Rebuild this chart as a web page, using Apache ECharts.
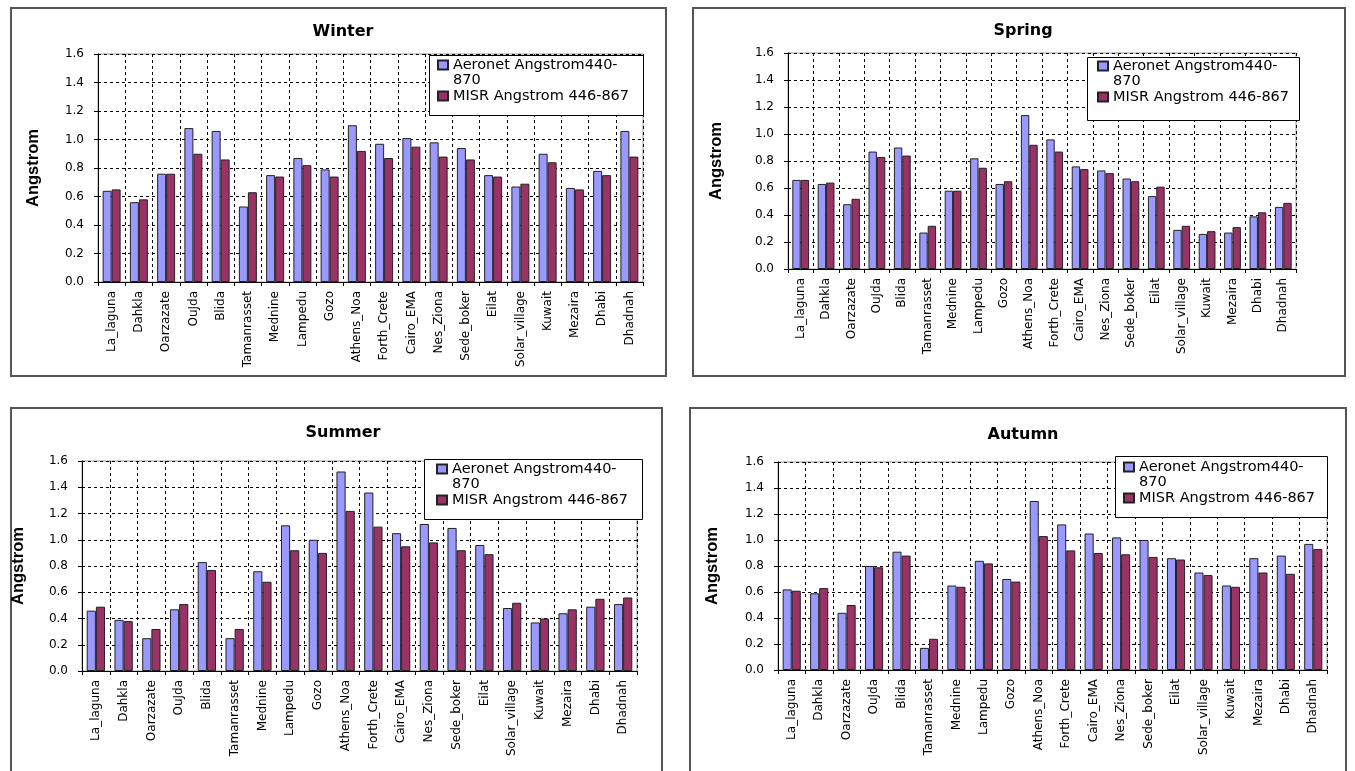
<!DOCTYPE html>
<html>
<head>
<meta charset="utf-8">
<script src="https://cdn.jsdelivr.net/npm/echarts@6/dist/echarts.min.js"></script>
<style>
  html, body { margin: 0; padding: 0; background: #fff; }
  #chart { width: 1355px; height: 771px; }
</style>
</head>
<body>
<div id="chart"></div>
<script>
// stations along the x axis
const stations = ['La_laguna', 'Dahkla', 'Oarzazate', 'OuJda', 'Blida', 'Tamanrasset', 'Mednine',
  'Lampedu', 'Gozo', 'Athens_Noa', 'Forth_Crete', 'Cairo_EMA', 'Nes_Ziona', 'Sede_boker', 'Eilat',
  'Solar_village', 'Kuwait', 'Mezaira', 'Dhabi', 'Dhadnah'];

const seriesNames = ['Aeronet Angstrom440-870', 'MISR Angstrom 446-867'];
const yTicks = [0, 0.2, 0.4, 0.6, 0.8, 1.0, 1.2, 1.4, 1.6];

const winterAeronet = [0.64, 0.56, 0.76, 1.08, 1.06, 0.53, 0.75, 0.87, 0.79, 1.10, 0.97, 1.01, 0.98, 0.94, 0.75, 0.67, 0.90, 0.66, 0.78, 1.06];
const winterMisr    = [0.65, 0.58, 0.76, 0.90, 0.86, 0.63, 0.74, 0.82, 0.74, 0.92, 0.87, 0.95, 0.88, 0.86, 0.74, 0.69, 0.84, 0.65, 0.75, 0.88];

const springAeronet = [0.66, 0.63, 0.48, 0.87, 0.90, 0.27, 0.58, 0.82, 0.63, 1.14, 0.96, 0.76, 0.73, 0.67, 0.54, 0.29, 0.26, 0.27, 0.39, 0.46];
const springMisr    = [0.66, 0.64, 0.52, 0.83, 0.84, 0.32, 0.58, 0.75, 0.65, 0.92, 0.87, 0.74, 0.71, 0.65, 0.61, 0.32, 0.28, 0.31, 0.42, 0.49];

const summerAeronet = [0.46, 0.39, 0.25, 0.47, 0.83, 0.25, 0.76, 1.11, 1.00, 1.52, 1.36, 1.05, 1.12, 1.09, 0.96, 0.48, 0.37, 0.44, 0.49, 0.51];
const summerMisr    = [0.49, 0.38, 0.32, 0.51, 0.77, 0.32, 0.68, 0.92, 0.90, 1.22, 1.10, 0.95, 0.98, 0.92, 0.89, 0.52, 0.40, 0.47, 0.55, 0.56];

const autumnAeronet = [0.62, 0.59, 0.44, 0.80, 0.91, 0.17, 0.65, 0.84, 0.70, 1.30, 1.12, 1.05, 1.02, 1.00, 0.86, 0.75, 0.65, 0.86, 0.88, 0.97];
const autumnMisr    = [0.61, 0.63, 0.50, 0.79, 0.88, 0.24, 0.64, 0.82, 0.68, 1.03, 0.92, 0.90, 0.89, 0.87, 0.85, 0.73, 0.64, 0.75, 0.74, 0.93];

const panels = [
  { title: 'Winter', a: winterAeronet, m: winterMisr,
    frame: [11, 8, 655, 368], grid: [98, 54, 545, 228], titleXY: [338, 29], nameGap: 56,
    legendBox: [429, 55, 214, 60], legendXY: [437, 65] },
  { title: 'Spring', a: springAeronet, m: springMisr,
    frame: [693, 8, 652, 368], grid: [788, 53, 508, 216], titleXY: [1018, 28], nameGap: 63,
    legendBox: [1087, 57, 212, 63], legendXY: [1097, 66] },
  { title: 'Summer', a: summerAeronet, m: summerMisr,
    frame: [11, 408, 651, 380], grid: [82, 461, 555, 210], titleXY: [338, 430], nameGap: 55,
    legendBox: [424, 459, 218, 60], legendXY: [436, 469] },
  { title: 'Autumn', a: autumnAeronet, m: autumnMisr,
    frame: [690, 408, 656, 380], grid: [778, 462, 549, 208], titleXY: [1018, 432], nameGap: 57,
    legendBox: [1115, 456, 212, 61], legendXY: [1123, 467] }
];

const chart = echarts.init(document.getElementById('chart'));

const option = {
  backgroundColor: '#fff',
  animation: false,
  title: [], grid: [], xAxis: [], yAxis: [], legend: [], series: [], graphic: []
};

panels.forEach((p, i) => {
  // panel frame
  option.graphic.push({
    type: 'rect', silent: true, z: 0,
    shape: { x: p.frame[0], y: p.frame[1], width: p.frame[2], height: p.frame[3] },
    style: { fill: 'none', stroke: '#555', lineWidth: 2 }
  });
  // legend box, drawn on its own so the wrapped legend text can sit freely
  option.graphic.push({
    type: 'rect', silent: true, z: 5,
    shape: { x: p.legendBox[0] + 0.5, y: p.legendBox[1] + 0.5, width: p.legendBox[2], height: p.legendBox[3] },
    style: { fill: '#fff', stroke: '#000', lineWidth: 1 }
  });

  option.title.push({
    text: p.title,
    left: p.titleXY[0], top: p.titleXY[1] - 10, textAlign: 'center',
    textStyle: { fontFamily: 'DejaVu Sans', fontWeight: 'bold', fontSize: 16, color: '#000' }
  });

  option.grid.push({
    left: p.grid[0], top: p.grid[1], width: p.grid[2], height: p.grid[3],
    show: true, borderColor: '#9a9a9a', borderWidth: 1, backgroundColor: '#fff'
  });

  option.xAxis.push({
    type: 'category', gridIndex: i, data: stations,
    axisLine: { lineStyle: { color: '#000', width: 1 } },
    axisTick: { show: true, length: 4, lineStyle: { color: '#000' } },
    axisLabel: { rotate: 90, interval: 0, margin: 9, fontFamily: 'DejaVu Sans', fontSize: 12, color: '#000' },
    splitLine: { show: true, interval: 0, lineStyle: { color: '#000', type: [3, 3], width: 1 } }
  });

  option.yAxis.push({
    type: 'value', gridIndex: i, min: 0, max: 1.6, interval: 0.2,
    name: 'Angstrom', nameLocation: 'middle', nameRotate: 90, nameGap: p.nameGap,
    nameTextStyle: { fontFamily: 'Liberation Sans', fontWeight: 'bold', fontSize: 16.5, color: '#000' },
    axisLine: { show: true, lineStyle: { color: '#000', width: 1 } },
    axisTick: { show: true, length: 4, lineStyle: { color: '#000' } },
    axisLabel: { margin: 14, fontFamily: 'DejaVu Sans', fontSize: 12, color: '#000',
      formatter: (v) => yTicks.includes(Math.round(v * 10) / 10) ? v.toFixed(1) : '' },
    splitLine: { show: true, lineStyle: { color: '#000', type: [3, 3], width: 1 } }
  });

  option.series.push({
    name: seriesNames[0], type: 'bar', xAxisIndex: i, yAxisIndex: i, data: p.a,
    barGap: '0%', barCategoryGap: '34%',
    itemStyle: { color: '#9999FF', borderColor: '#222', borderWidth: 1 }
  });
  option.series.push({
    name: seriesNames[1], type: 'bar', xAxisIndex: i, yAxisIndex: i, data: p.m,
    barGap: '0%', barCategoryGap: '34%',
    itemStyle: { color: '#993366', borderColor: '#222', borderWidth: 1 }
  });

  // first legend label wraps like the original: a blank line on top keeps
  // "Aeronet Angstrom440-" level with its swatch and "870" under it
  option.legend.push({
    orient: 'vertical',
    left: p.legendXY[0], top: p.legendXY[1] - 22.5,
    padding: 0, itemGap: 1, itemWidth: 10, itemHeight: 9,
    icon: 'rect', z: 6, selectedMode: false,
    textStyle: { fontFamily: 'DejaVu Sans', fontSize: 14.5, color: '#000', lineHeight: 15 },
    formatter: (name) => name.indexOf('440-') >= 0 ? '\n' + name.replace('440-', '440-\n') : name,
    data: seriesNames
  });
});

chart.setOption(option);
</script>
</body>
</html>
